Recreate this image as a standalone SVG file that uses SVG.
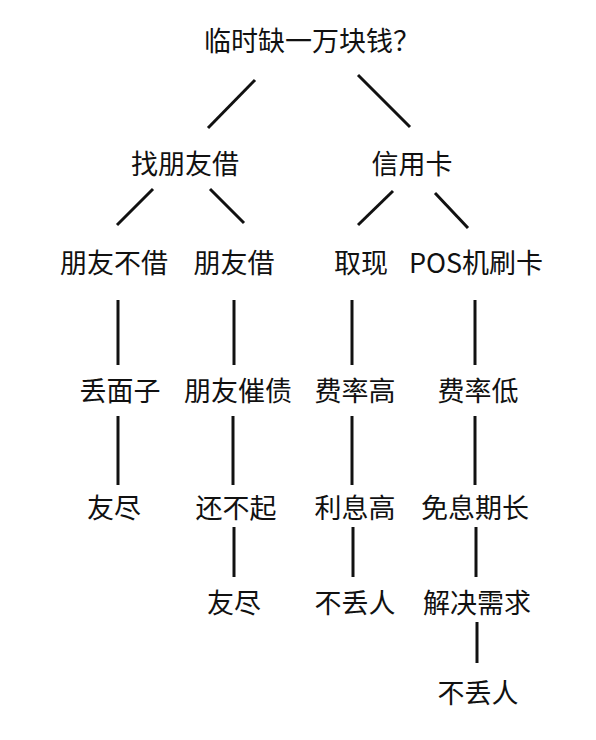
<svg xmlns="http://www.w3.org/2000/svg" width="596" height="740" viewBox="0 0 596 740">
<style>
text{font-family:"Noto Sans CJK SC","Noto Sans",sans-serif;font-size:27px;fill:#111;text-anchor:middle;dominant-baseline:central}
.c line{stroke:#111;stroke-width:3;stroke-linecap:butt}
</style>
<rect width="596" height="740" fill="#fff"/>
<g id="connectors" class="c">
<line x1="255" y1="80" x2="208" y2="128"/>
<line x1="358" y1="75" x2="410" y2="127"/>
<line x1="153" y1="189" x2="117" y2="225"/>
<line x1="210" y1="189" x2="244" y2="223"/>
<line x1="393" y1="191" x2="358" y2="225"/>
<line x1="435" y1="193" x2="468" y2="228"/>
<line x1="118" y1="300" x2="118" y2="365"/>
<line x1="234" y1="300" x2="234" y2="365"/>
<line x1="352" y1="300" x2="352" y2="365"/>
<line x1="475" y1="300" x2="475" y2="365"/>
<line x1="118" y1="416" x2="118" y2="485"/>
<line x1="233" y1="416" x2="233" y2="485"/>
<line x1="352" y1="416" x2="352" y2="485"/>
<line x1="475" y1="416" x2="475" y2="485"/>
<line x1="234" y1="527" x2="234" y2="577"/>
<line x1="353" y1="527" x2="353" y2="577"/>
<line x1="476" y1="527" x2="476" y2="577"/>
<line x1="477" y1="622" x2="477" y2="663"/>
</g>
<g id="root"><text x="312" y="39">临时缺一万块钱？</text></g>
<g id="n-friend"><text x="185" y="162">找朋友借</text></g>
<g id="n-card"><text x="412" y="162">信用卡</text></g>
<g id="n-notlend"><text x="114" y="261">朋友不借</text></g>
<g id="n-lend"><text x="234" y="261">朋友借</text></g>
<g id="n-cash"><text x="361" y="261">取现</text></g>
<g id="n-pos"><text x="476" y="261">POS机刷卡</text></g>
<g id="n-face"><text x="120" y="389">丢面子</text></g>
<g id="n-urge"><text x="238" y="389">朋友催债</text></g>
<g id="n-feehigh"><text x="355" y="389">费率高</text></g>
<g id="n-feelow"><text x="478" y="389">费率低</text></g>
<g id="n-end1"><text x="114" y="506">友尽</text></g>
<g id="n-cantpay"><text x="236" y="506">还不起</text></g>
<g id="n-inthigh"><text x="355" y="506">利息高</text></g>
<g id="n-freelong"><text x="475" y="506">免息期长</text></g>
<g id="n-end2"><text x="234" y="601">友尽</text></g>
<g id="n-noshame1"><text x="355" y="601">不丢人</text></g>
<g id="n-solve"><text x="477" y="601">解决需求</text></g>
<g id="n-noshame2"><text x="478" y="691">不丢人</text></g>
</svg>
